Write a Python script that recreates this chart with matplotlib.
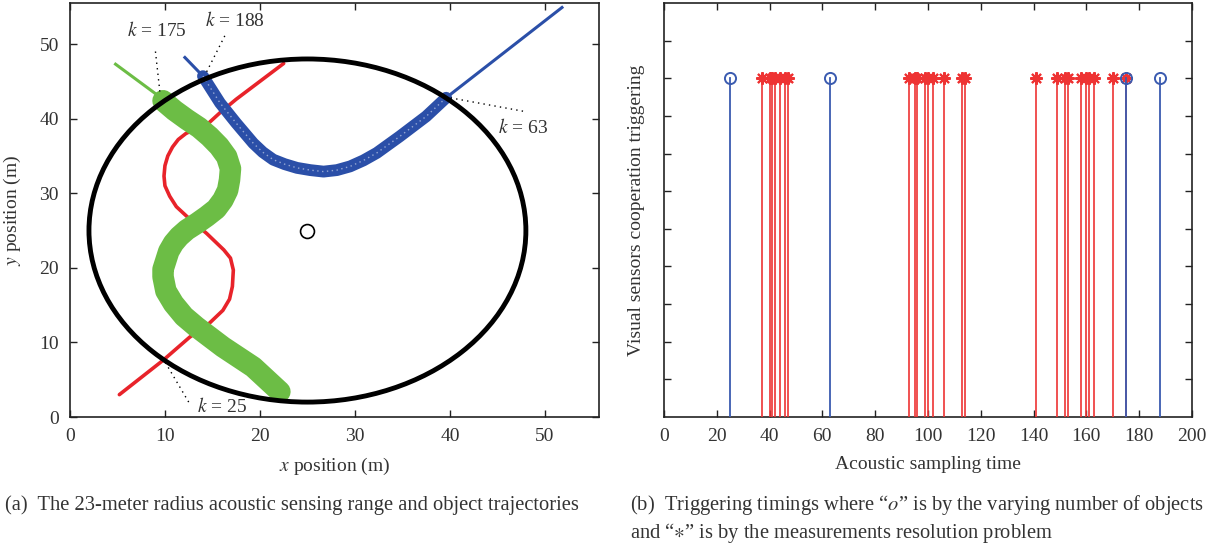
import matplotlib
matplotlib.use('Agg')
import matplotlib.pyplot as plt
from matplotlib.patches import Ellipse

plt.rcParams['font.family'] = ['Liberation Serif', 'DejaVu Serif']
plt.rcParams['mathtext.fontset'] = 'stix'
txt = '#333333'

# --- left panel: trajectories ---
red_x = [5.2, 7.5, 9.8, 12.6, 14.7, 16.1, 16.8, 17.1, 17.2, 16.9, 16.2, 15.3, 14.4, 12.3, 11.2,
         10.5, 10.0, 9.9, 10.0, 10.3, 10.8, 11.4, 12.2, 13.0, 14.6, 15.8, 17.5, 22.5]
red_y = [3.0, 5.3, 7.6, 10.7, 12.6, 14.3, 15.8, 17.5, 19.7, 21.3, 22.4, 23.5, 24.6, 26.9, 28.2,
         29.6, 31.0, 32.3, 33.7, 35.0, 36.2, 37.2, 38.0, 38.5, 39.4, 40.8, 42.6, 47.4]

green_thin_x = [4.8, 9.8]
green_thin_y = [47.3, 42.6]
green_x = [9.8, 11.0, 12.3, 13.6, 14.7, 15.7, 16.5, 16.9, 16.8, 16.6, 16.1, 15.4, 14.4, 13.4,
           12.3, 11.5, 10.9, 10.4, 10.1, 9.8, 9.8, 10.1, 10.9, 12.0, 13.3, 16.1, 19.3, 22.1]
green_y = [42.4, 41.1, 39.9, 38.8, 37.6, 36.3, 34.9, 33.3, 31.8, 30.4, 29.1, 27.9, 26.9, 26.0,
           25.1, 24.2, 23.3, 22.2, 21.0, 19.8, 18.8, 16.9, 15.2, 13.5, 12.1, 9.4, 6.7, 3.4]

blue_in_x = [12.1, 14.0]
blue_in_y = [48.2, 45.7]
blue_out_x = [39.6, 51.8]
blue_out_y = [42.8, 54.9]
blue_x = [14.0, 15.8, 17.5, 19.3, 20.3, 21.4, 22.6, 23.9, 25.3, 26.7, 28.1, 29.5, 30.9, 32.3,
          34.7, 37.5, 39.6]
blue_y = [45.7, 42.1, 39.4, 36.7, 35.5, 34.5, 33.9, 33.4, 33.1, 32.9, 33.1, 33.6, 34.4, 35.4,
          37.6, 40.3, 42.8]

range_center = (25, 25)
range_radius = 23

notes = [  # (label, text x, text y, line from, line to)
    ('175', 9.1, 51.8, (9.0, 49.0), (9.5, 43.2)),
    ('188', 17.4, 53.2, (16.3, 51.1), (14.2, 45.8)),
    ('63', 47.7, 38.8, (47.7, 41.0), (40.0, 42.8)),
    ('25', 16.0, 1.4, (12.5, 2.0), (10.0, 7.4)),
]

# --- right panel: trigger times ---
obj_times = [25, 63, 175, 188]
res_times = [37, 40, 41, 42, 44, 46, 47, 93, 95, 96, 99, 100, 102, 106, 113, 114,
             141, 149, 152, 153, 158, 160, 161, 163, 170, 175]

fig = plt.figure(figsize=(12.21, 5.5), dpi=100)
ax1 = fig.add_axes([0.0573, 0.2418, 0.4333, 0.7527])
ax2 = fig.add_axes([0.5438, 0.2418, 0.4324, 0.7527])

ax1.plot(red_x, red_y, color='#e8232a', lw=2.6, solid_capstyle='round', solid_joinstyle='round', zorder=3)
ax1.plot(green_thin_x, green_thin_y, color='#6cbd45', lw=2.2, zorder=3)
ax1.plot(green_x, green_y, color='#6cbd45', lw=15.5, solid_capstyle='round', solid_joinstyle='round', zorder=4)
ax1.plot(blue_in_x, blue_in_y, color='#2b4fa8', lw=2.2, zorder=3)
ax1.plot(blue_out_x, blue_out_y, color='#2b4fa8', lw=2.2, zorder=3)
ax1.plot(blue_x, blue_y, color='#2b4fa8', lw=8.5, solid_capstyle='round', solid_joinstyle='round', zorder=5)
ax1.plot(blue_x, blue_y, color='white', lw=1.0, ls=(0, (1, 2.5)), alpha=0.5, zorder=6)
ax1.add_patch(Ellipse(range_center, 2 * range_radius, 2 * range_radius, fill=False,
                      ec='black', lw=3.5, zorder=6))
ax1.plot([range_center[0]], [range_center[1]], 'o', mfc='none', mec='black', ms=10, mew=1.2, zorder=7)

for lab, tx, ty, p0, p1 in notes:
    ax1.plot([p0[0], p1[0]], [p0[1], p1[1]], color='black', lw=1, ls=(0, (1, 3)), zorder=8)
    ax1.text(tx, ty, '$k$ = ' + lab, ha='center', va='center', fontsize=14, color=txt)

ax1.set_xlim(0, 55.7)
ax1.set_ylim(0, 55.5)
ax1.set_xticks(range(0, 51, 10))
ax1.set_yticks(range(0, 51, 10))
ax1.set_xlabel('$x$ position (m)', fontsize=14, color=txt, labelpad=8)
ax1.set_ylabel('$y$ position (m)', fontsize=14, color=txt, labelpad=12)

for t in res_times:
    ax2.plot([t, t], [0, 1], color='#ee3333', lw=1.2, zorder=3)
ax2.plot(res_times, [1] * len(res_times), ls='none', marker=(8, 2, 0), ms=9, mew=1.5,
         color='#ee3333', zorder=4)
for t in obj_times:
    ax2.plot([t, t], [0, 1], color='#3a5bb0', lw=1.3, zorder=5)
ax2.plot(obj_times, [1] * len(obj_times), ls='none', marker='o', ms=8, mfc='none',
         mec='#3a5bb0', mew=1.4, zorder=6)

ax2.set_xlim(0, 200)
ax2.set_ylim(0, 11 / 9)
ax2.set_xticks(range(0, 201, 20))
ax2.set_yticks([i / 9 for i in range(1, 11)])
ax2.set_yticklabels([])
ax2.set_xlabel('Acoustic sampling time', fontsize=14, color=txt, labelpad=8)
ax2.set_ylabel('Visual sensors cooperation triggering', fontsize=14, color=txt, labelpad=6)

for ax in (ax1, ax2):
    ax.tick_params(direction='in', top=True, right=True, length=5, width=1,
                   labelsize=14, colors='#222222', labelcolor=txt, pad=8)
    for s in ax.spines.values():
        s.set_linewidth(1.2)
        s.set_color('#222222')

fig.text(0.004, 0.072, '(a)  The 23-meter radius acoustic sensing range and object trajectories',
         fontsize=14.8, color=txt)
fig.text(0.516, 0.072, '(b)  Triggering timings where \u201c$o$\u201d is by the varying number of objects',
         fontsize=14.8, color=txt)
fig.text(0.516, 0.022, 'and \u201c$\\ast$\u201d is by the measurements resolution problem',
         fontsize=14.8, color=txt)

fig.savefig('out.png', dpi=100)
